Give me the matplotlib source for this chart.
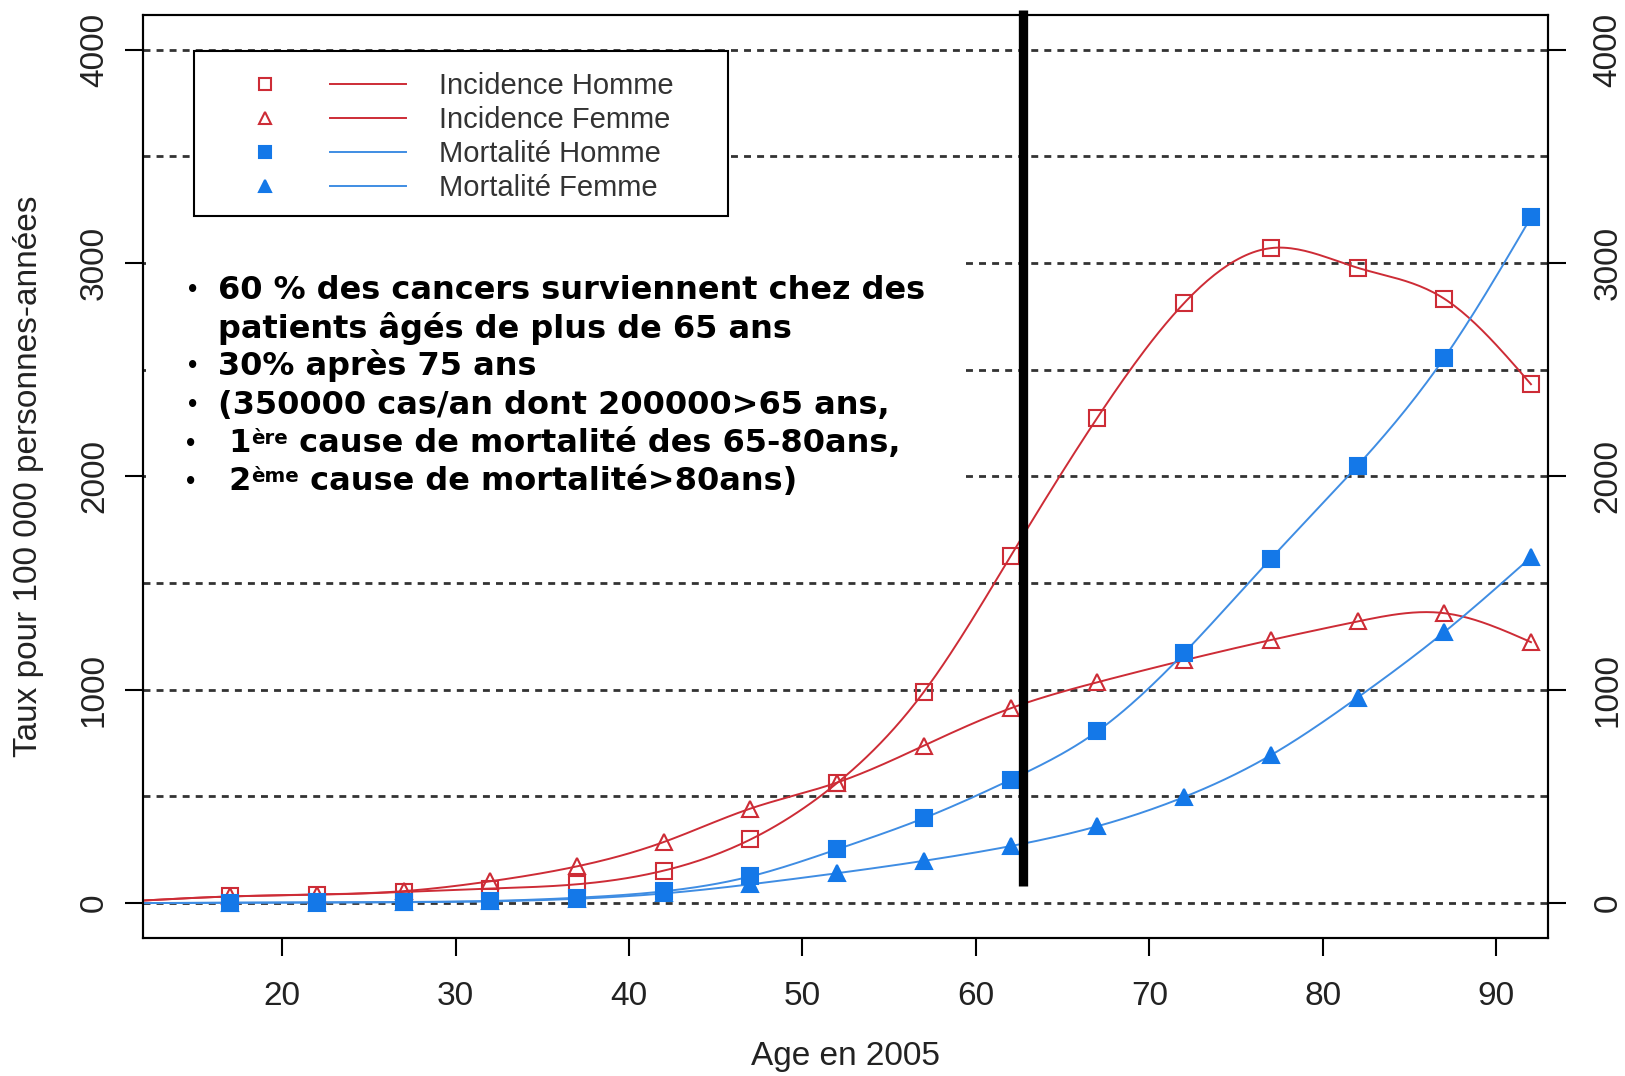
import numpy as np
import matplotlib
matplotlib.use("Agg")
import matplotlib.pyplot as plt
from matplotlib.lines import Line2D
from matplotlib.patches import Rectangle
from matplotlib.legend_handler import HandlerTuple

# taux pour 100 000 personnes-annees, par age en 2005
ages = [12, 17, 22, 27, 32, 37, 42, 47, 52, 57, 62, 67, 72, 77, 82, 87, 92]
inc_homme = [12, 31, 39, 52, 68, 88, 152, 298, 563, 990, 1626, 2275, 2812, 3070, 2978, 2833, 2432]
inc_femme = [12, 31, 40, 56, 102, 172, 286, 443, 565, 738, 913, 1035, 1138, 1233, 1320, 1359, 1223]
mort_homme = [0, 2, 3, 5, 10, 25, 55, 125, 252, 398, 578, 805, 1172, 1614, 2050, 2555, 3214]
mort_femme = [0, 1, 2, 4, 8, 20, 45, 88, 140, 198, 267, 360, 497, 693, 963, 1270, 1621]

labels = ["Incidence Homme", "Incidence Femme", "Mortalité Homme", "Mortalité Femme"]
# (puce, texte)
bullets = [
    (True, "60 % des cancers surviennent chez des"),
    (False, "patients âgés de plus de 65 ans"),
    (True, "30% après 75 ans"),
    (True, "(350000 cas/an dont 200000>65 ans,"),
]
sup_lines = [(" 1", "ère", " cause de mortalité des 65-80ans,"),
             (" 2", "ème", " cause de mortalité>80ans)")]

# trait vertical (age 62.7)
vline_age = 62.7
vline_y = (81, 4185)

RED = "#CD2C36"
BLUE = "#1478E8"
BLUE_LINE = "#3F8DE3"
AXFONT = ["Liberation Sans Narrow", "Liberation Sans", "DejaVu Sans"]
BOLDFONT = "DejaVu Sans"


def smooth(x, y, num=400):
    # spline cubique naturelle pour le trace
    x = np.asarray(x, float)
    y = np.asarray(y, float)
    n = len(x)
    h = np.diff(x)
    A = np.zeros((n, n))
    b = np.zeros(n)
    A[0, 0] = A[-1, -1] = 1
    for i in range(1, n - 1):
        A[i, i - 1] = h[i - 1]
        A[i, i] = 2 * (h[i - 1] + h[i])
        A[i, i + 1] = h[i]
        b[i] = 6 * ((y[i + 1] - y[i]) / h[i] - (y[i] - y[i - 1]) / h[i - 1])
    M = np.linalg.solve(A, b)
    xs = np.linspace(x[0], x[-1], num)
    k = np.clip(np.searchsorted(x, xs) - 1, 0, n - 2)
    hh = x[k + 1] - x[k]
    t0 = x[k + 1] - xs
    t1 = xs - x[k]
    ys = (M[k] * t0 ** 3 + M[k + 1] * t1 ** 3) / (6 * hh) \
        + (y[k] / hh - M[k] * hh / 6) * t0 + (y[k + 1] / hh - M[k + 1] * hh / 6) * t1
    return xs, ys


fig = plt.figure(figsize=(16.25, 10.76), dpi=100)
ax = fig.add_axes([0.0882, 0.128, 0.8646, 0.8585])
ax.set_xlim(12, 93)
ax.set_ylim(-165, 4165)

for v in range(0, 4001, 500):
    ax.axhline(v, color="#333333", lw=2.0, ls=(0, (2.5, 2.2)), zorder=1)

series = [
    (inc_homme, RED, RED, "s", "none", 12),
    (inc_femme, RED, RED, "^", "none", 12),
    (mort_homme, BLUE_LINE, BLUE, "s", BLUE, 11),
    (mort_femme, BLUE_LINE, BLUE, "^", BLUE, 12),
]
handles = []
for vals, lc, mc, mk, fc, ms in series:
    xs, ys = smooth(ages, vals)
    ax.plot(xs, ys, color=lc, lw=1.4, zorder=3)
    ax.plot(ages[1:], vals[1:], ls="none", marker=mk, ms=ms, mec=mc, mfc=fc,
            mew=1.5, zorder=4)
    handles.append((Line2D([], [], ls="none", marker=mk, ms=8, mec=mc, mfc=fc, mew=1.5),
                    Line2D([], [], color=lc, lw=1.4)))

# fond blanc derriere le texte
ax.add_patch(Rectangle((0.002, 0.4745), 0.582, 0.2705, transform=ax.transAxes,
                       facecolor="white", edgecolor="none", zorder=2))

# legende
ax.add_patch(Rectangle((0.0359, 0.7824), 0.3806, 0.1785, transform=ax.transAxes,
                       facecolor="white", edgecolor="black", lw=1.5, zorder=5))
leg = ax.legend(handles, labels, handler_map={tuple: HandlerTuple(ndivide=None, pad=0.91)},
                loc="upper left", bbox_to_anchor=(0.0596, 0.938), frameon=False,
                borderpad=0, borderaxespad=0, handlelength=6.15, handletextpad=1.1,
                labelspacing=0.21, prop={"family": AXFONT, "size": 21})
leg.set_zorder(6)
for t in leg.get_texts():
    t.set_color("#333333")

# texte en gras
ys_txt = [0.7016, 0.6601, 0.6198, 0.5771, 0.5356, 0.4940]
fs = 23
for i, (has_bullet, s) in enumerate(bullets):
    if has_bullet:
        ax.text(0.0307, ys_txt[i], "•", transform=ax.transAxes, fontsize=fs * 0.65,
                fontweight="bold", va="center", ha="left", zorder=7)
    ax.text(0.0529, ys_txt[i], s, transform=ax.transAxes, fontsize=fs,
            fontweight="bold", va="center", ha="left", family=BOLDFONT, zorder=7)
for j, (a, sup, rest) in enumerate(sup_lines):
    y = ys_txt[4 + j]
    ax.text(0.0293, y, "•", transform=ax.transAxes, fontsize=fs * 0.65,
            fontweight="bold", va="center", ha="left", zorder=7)
    t1 = ax.text(0.0529, y, a, transform=ax.transAxes, fontsize=fs,
                 fontweight="bold", va="center", ha="left", family=BOLDFONT, zorder=7)
    t2 = ax.annotate(sup, xy=(1, 0.97), xycoords=t1, fontsize=fs * 0.62, fontweight="bold",
                     va="top", ha="left", family=BOLDFONT, zorder=7)
    ax.annotate(rest, xy=(1, 0), xycoords=(t2, t1), fontsize=fs, fontweight="bold",
                va="bottom", ha="left", family=BOLDFONT, zorder=7)

# trait vertical
ax.plot([vline_age, vline_age], vline_y, color="black", lw=6.7, clip_on=False,
        solid_capstyle="butt", zorder=8)

# axes
yticks = [0, 1000, 2000, 3000, 4000]
for sp in ax.spines.values():
    sp.set_linewidth(1.5)
ax.set_xticks([20, 30, 40, 50, 60, 70, 80, 90])
ax.set_yticks(yticks)
ax.tick_params(axis="x", length=13, width=1.5, pad=18, labelsize=24, labelcolor="#222222")
ax.tick_params(axis="y", length=13, width=1.5, pad=11, labelsize=24, labelcolor="#222222",
               labelrotation=90)
for t in ax.get_xticklabels() + ax.get_yticklabels():
    t.set_family(AXFONT)
for t in ax.get_yticklabels():
    t.set_va("center")

ax2 = ax.twinx()
ax2.set_ylim(ax.get_ylim())
ax2.set_yticks(yticks)
ax2.tick_params(axis="y", length=13, width=1.5, pad=19, labelsize=24, labelcolor="#222222",
                labelrotation=90)
for t in ax2.get_yticklabels():
    t.set_va("center")
    t.set_family(AXFONT)
for sp in ax2.spines.values():
    sp.set_linewidth(1.5)

fig.text(29 / 1625, 1 - 476 / 1076, "Taux pour 100 000 personnes-années", rotation=90,
         ha="center", va="center", fontsize=24, color="#222222", family=AXFONT)
fig.text(0.5 * (143.3 + 1548.3) / 1625, 1 - 1057 / 1076, "Age en 2005",
         ha="center", va="center", fontsize=24, color="#222222", family=AXFONT)

fig.savefig("out.png", dpi=100)
